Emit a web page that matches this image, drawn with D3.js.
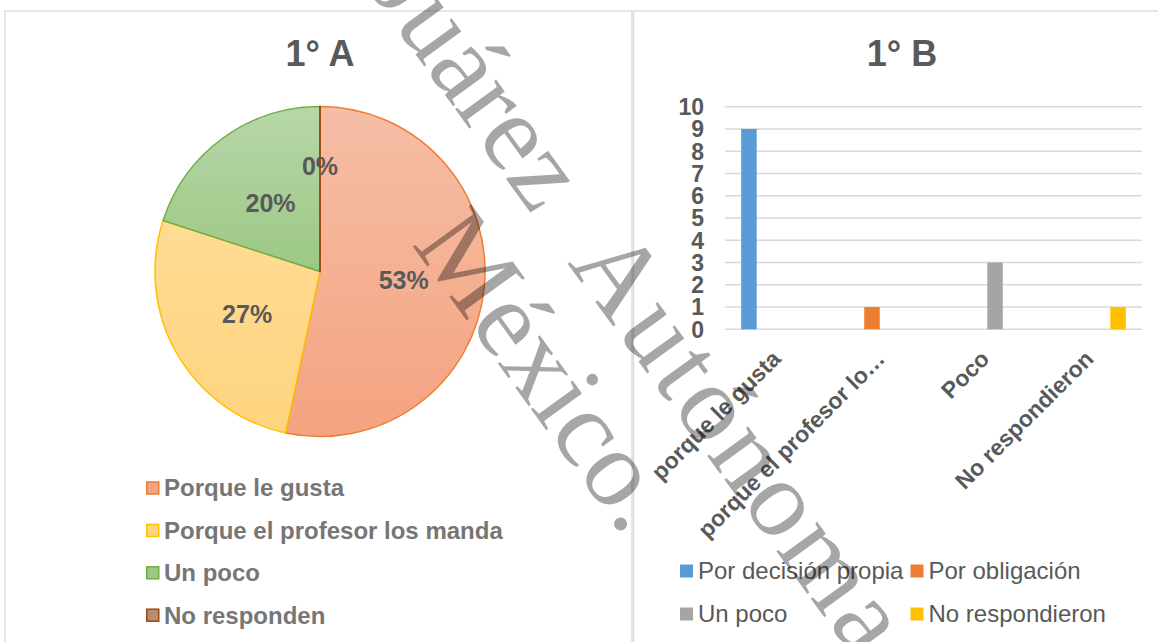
<!DOCTYPE html>
<html>
<head>
<meta charset="utf-8">
<script src="https://cdn.jsdelivr.net/npm/d3@7"></script>
<style>
  body { margin: 0; background: #fff; }
  svg { display: block; font-family: "Liberation Sans", Arial, sans-serif; }
</style>
</head>
<body>
<svg id="chart" width="1158" height="642"></svg>
<script>
// ---- data ----
const pieTitle = "1° A";
const pieLabels = ["Porque le gusta", "Porque el profesor los manda", "Un poco", "No responden"];
const pieValues = [8, 4, 3, 0];

const barTitle = "1° B";
const barCategories = ["porque le gusta", "porque el profesor lo…", "Poco", "No respondieron"];
const barSeries = ["Por decisión propia", "Por obligación", "Un poco", "No respondieron"];
const porDecision = [9, 0, 0, 0];
const porObligacion = [0, 1, 0, 0];
const unPoco = [0, 0, 3, 0];
const noRespondieron = [0, 0, 0, 1];
const yTicks = [0, 1, 2, 3, 4, 5, 6, 7, 8, 9, 10];

const watermarkA = "Universidad Juárez";
const watermarkB = "Autónoma de Tabasco";
const watermarkC = "México.";

// ---- styles ----
const pieFill = [["#f6bea6", "#f4a380"], ["#ffdb94", "#fed47f"], ["#b7d7a9", "#9cc884"], ["#c9a08a", "#b98b72"]];
const pieStroke = ["#ed7d31", "#ffc000", "#70ad47", "#9e480e"];
const barColors = ["#5b9bd5", "#ed7d31", "#a5a5a5", "#ffc000"];
const textDark = "#595959";

const svg = d3.select("#chart");

// panel frames
svg.append("rect").attr("x", 5).attr("y", 11).attr("width", 627).attr("height", 700)
  .attr("fill", "none").attr("stroke", "#d9d9d9").attr("stroke-width", 1.3);
svg.append("rect").attr("x", 633.5).attr("y", 11).attr("width", 600).attr("height", 700)
  .attr("fill", "none").attr("stroke", "#d9d9d9").attr("stroke-width", 1.3);

// ================= PIE =================
const cx = 320, cy = 271.5, r = 165;
svg.append("text").attr("x", cx).attr("y", 66).attr("text-anchor", "middle")
  .attr("font-size", 36).attr("font-weight", "bold").attr("fill", textDark).text(pieTitle);

const defs = svg.append("defs");
pieFill.forEach(function (c, i) {
  const g = defs.append("linearGradient").attr("id", "pg" + i)
    .attr("x1", 0).attr("y1", 0).attr("x2", 0).attr("y2", 1);
  g.append("stop").attr("offset", "0%").attr("stop-color", c[0]);
  g.append("stop").attr("offset", "100%").attr("stop-color", c[1]);
});

const pie = d3.pie().sort(null).value(function (d) { return d; });
const arcs = pie(pieValues);
const arc = d3.arc().innerRadius(0).outerRadius(r);
const pg = svg.append("g").attr("transform", "translate(" + cx + "," + cy + ")");

pg.selectAll("path.slice").data(arcs).join("path")
  .attr("class", "slice")
  .attr("d", arc)
  .attr("fill", function (d, i) { return "url(#pg" + i + ")"; })
  .attr("stroke", function (d, i) { return pieStroke[i]; })
  .attr("stroke-width", 1.5)
  .attr("stroke-linejoin", "round");

// zero slice shows as a single radial line
pg.selectAll("line.zero").data(arcs.filter(function (d) { return d.value === 0; })).join("line")
  .attr("class", "zero")
  .attr("x1", 0).attr("y1", 0)
  .attr("x2", function (d) { return r * Math.sin(d.startAngle); })
  .attr("y2", function (d) { return -r * Math.cos(d.startAngle); })
  .attr("stroke", pieStroke[3]).attr("stroke-width", 1.5);

const total = d3.sum(pieValues);
pg.selectAll("text.lbl").data(arcs).join("text")
  .attr("class", "lbl")
  .attr("transform", function (d) {
    const a = (d.startAngle + d.endAngle) / 2;
    const lr = d.value === 0 ? r * 0.64 : r * 0.51;
    return "translate(" + (lr * Math.sin(a)) + "," + (-lr * Math.cos(a)) + ")";
  })
  .attr("text-anchor", "middle").attr("dy", "0.36em")
  .attr("font-size", 25).attr("font-weight", "bold").attr("fill", textDark)
  .text(function (d) { return Math.round(d.value / total * 100) + "%"; });

// pie legend
const pl = svg.append("g").selectAll("g").data(pieLabels).join("g")
  .attr("transform", function (d, i) { return "translate(146," + (488 + i * 42.4) + ")"; });
pl.append("rect").attr("x", 0.75).attr("y", -6).attr("width", 12).attr("height", 12)
  .attr("fill", function (d, i) { return pieFill[i][1]; })
  .attr("stroke", function (d, i) { return pieStroke[i]; }).attr("stroke-width", 1.5);
pl.append("text").attr("x", 18).attr("dy", "0.35em")
  .attr("font-size", 24).attr("font-weight", "bold").attr("fill", "#767676")
  .text(function (d) { return d; });

// ================= BAR =================
const seriesValues = [porDecision, porObligacion, unPoco, noRespondieron];
svg.append("text").attr("x", 902).attr("y", 66).attr("text-anchor", "middle")
  .attr("font-size", 36).attr("font-weight", "bold").attr("fill", textDark).text(barTitle);

const x0 = d3.scaleBand().domain(barCategories).range([725, 1142]);
const x1 = d3.scaleBand().domain(barSeries).range([0, x0.bandwidth()])
  .paddingInner(0.175).paddingOuter(0.86);
const y = d3.scaleLinear().domain([0, 10]).range([329.3, 106.7]);

svg.append("g").selectAll("line").data(yTicks).join("line")
  .attr("x1", 725).attr("x2", 1142)
  .attr("y1", function (d) { return y(d); }).attr("y2", function (d) { return y(d); })
  .attr("stroke", "#d9d9d9").attr("stroke-width", 1.5);

svg.append("g").selectAll("text").data(yTicks).join("text")
  .attr("x", 704).attr("y", function (d) { return y(d); }).attr("dy", "0.36em")
  .attr("text-anchor", "end").attr("font-size", 23).attr("font-weight", "bold")
  .attr("fill", textDark).text(function (d) { return d; });

const barData = [];
seriesValues.forEach(function (vals, s) {
  vals.forEach(function (v, c) {
    barData.push({ cat: barCategories[c], ser: barSeries[s], s: s, value: v });
  });
});
svg.append("g").selectAll("rect").data(barData).join("rect")
  .attr("x", function (d) { return x0(d.cat) + x1(d.ser); })
  .attr("y", function (d) { return y(d.value); })
  .attr("width", x1.bandwidth())
  .attr("height", function (d) { return y(0) - y(d.value); })
  .attr("fill", function (d) { return barColors[d.s]; });

svg.append("g").selectAll("text").data(barCategories).join("text")
  .attr("transform", function (d) {
    return "translate(" + (x0(d) + x0.bandwidth() / 2 + 5) + "," + (y(0) + 31) + ") rotate(-45)";
  })
  .attr("text-anchor", "end").attr("font-size", 23).attr("font-weight", "bold")
  .attr("fill", textDark).text(function (d) { return d; });

// bar legend
const bl = svg.append("g").selectAll("g").data(barSeries).join("g")
  .attr("transform", function (d, i) {
    return "translate(" + (i % 2 === 0 ? 680 : 910.5) + "," + (571 + Math.floor(i / 2) * 43) + ")";
  });
bl.append("rect").attr("x", 0).attr("y", -6.5).attr("width", 13).attr("height", 13)
  .attr("fill", function (d, i) { return barColors[i]; });
bl.append("text").attr("x", 18).attr("dy", "0.35em")
  .attr("font-size", 24).attr("fill", textDark).text(function (d) { return d; });

// ================= WATERMARK =================
const wm = svg.append("g").attr("transform", "translate(567,263) rotate(54)")
  .attr("font-family", "'Liberation Serif', 'Times New Roman', serif")
  .attr("font-size", 110).attr("fill", "#000").attr("fill-opacity", 0.35);
wm.append("text").attr("x", -58).attr("text-anchor", "end").text(watermarkA);
wm.append("text").attr("x", 0).attr("letter-spacing", 4).text(watermarkB);
wm.append("text").attr("x", -107).attr("y", 115).text(watermarkC);
</script>
</body>
</html>
